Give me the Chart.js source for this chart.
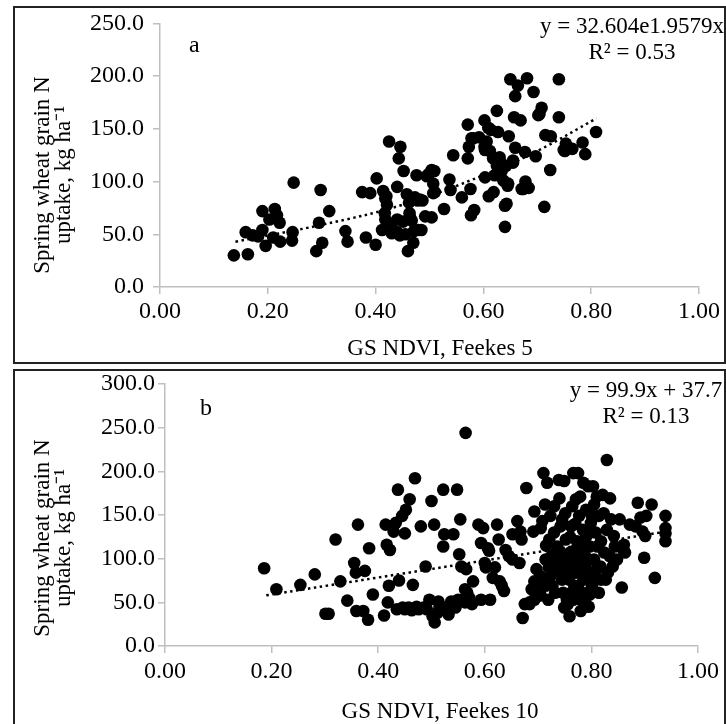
<!DOCTYPE html>
<html>
<head>
<meta charset="utf-8">
<script src="https://cdn.jsdelivr.net/npm/chart.js@4.4.0/dist/chart.umd.min.js"></script>
<style>
  body { margin: 0; background: #fff; }
  #wrap { position: relative; width: 726px; height: 724px; overflow: hidden; }
  .frame { position: absolute; left: 13px; width: 713px; border: 2px solid #222; box-sizing: border-box; }
  canvas { position: absolute; left: 0; }
</style>
</head>
<body>
<div id="wrap">
  <div class="frame" style="top:6px;height:358px"></div>
  <div class="frame" style="top:369px;height:360px"></div>
  <canvas id="chartA" width="726" height="364" style="top:0"></canvas>
  <canvas id="chartB" width="726" height="360" style="top:364px"></canvas>
</div>
<script>
// panel a: Feekes 5
const ndviF5 = [0.137,0.163,0.159,0.172,0.182,0.190,0.190,0.196,0.203,0.210,0.213,0.217,0.222,0.223,0.246,0.245,0.248,0.290,0.295,0.298,0.301,0.314,0.344,0.348,0.382,0.375,0.390,0.400,0.402,0.412,0.414,0.418,0.421,0.417,0.425,0.430,0.440,0.440,0.443,0.446,0.445,0.452,0.458,0.460,0.463,0.467,0.470,0.471,0.476,0.478,0.485,0.487,0.492,0.498,0.504,0.509,0.510,0.507,0.527,0.537,0.539,0.544,0.560,0.571,0.571,0.573,0.576,0.578,0.577,0.583,0.592,0.602,0.602,0.603,0.606,0.610,0.612,0.614,0.619,0.621,0.623,0.625,0.627,0.630,0.634,0.637,0.642,0.640,0.640,0.643,0.645,0.647,0.650,0.655,0.659,0.657,0.659,0.664,0.669,0.674,0.677,0.681,0.678,0.684,0.693,0.697,0.704,0.708,0.713,0.715,0.724,0.725,0.740,0.740,0.749,0.753,0.765,0.784,0.789,0.809,0.418,0.428,0.432,0.440,0.455,0.464,0.473,0.479,0.482,0.495,0.504,0.507,0.581,0.603,0.609,0.618,0.625,0.631,0.634,0.646,0.655,0.671,0.702,0.751,0.420,0.451,0.462];
const uptakeF5 = [30,31,52,49,48,54,72,39,64,47,74,68,61,43,52,44,99,34,61,92,42,72,53,43,47,90,89,40,103,54,91,84,78,70,138,51,64,95,122,133,49,110,88,34,70,63,42,53,106,82,54,82,67,107,66,110,90,98,74,102,92,125,85,154,122,133,93,141,68,73,142,158,133,104,138,86,129,149,90,106,120,167,147,123,113,101,115,77,57,79,96,143,197,118,132,161,181,191,158,93,128,198,100,94,185,124,164,170,76,144,111,143,161,197,130,136,131,137,126,147,64,58,53,52,50,66,85,54,83,105,111,89,141,130,151,122,115,119,110,98,120,93,163,129,86,62,80];
const trendXF5 = [0.14, 0.30, 0.45, 0.60, 0.70, 0.81];
const trendYF5 = [43, 59, 78, 106, 129, 160];

// panel b: Feekes 10
const ndviF10 = [0.186,0.209,0.254,0.281,0.301,0.307,0.320,0.329,0.342,0.355,0.358,0.359,0.362,0.372,0.375,0.381,0.383,0.390,0.411,0.414,0.416,0.422,0.420,0.418,0.433,0.435,0.437,0.439,0.429,0.445,0.450,0.450,0.452,0.459,0.457,0.465,0.469,0.472,0.476,0.480,0.489,0.491,0.496,0.500,0.502,0.505,0.506,0.513,0.515,0.522,0.522,0.524,0.528,0.532,0.537,0.541,0.545,0.548,0.552,0.554,0.556,0.558,0.564,0.565,0.563,0.567,0.571,0.576,0.578,0.588,0.593,0.593,0.597,0.600,0.602,0.606,0.608,0.610,0.615,0.619,0.623,0.626,0.628,0.632,0.636,0.639,0.645,0.652,0.661,0.652,0.665,0.667,0.669,0.671,0.675,0.678,0.684,0.688,0.691,0.693,0.693,0.697,0.701,0.704,0.708,0.710,0.713,0.714,0.717,0.719,0.721,0.723,0.725,0.727,0.730,0.732,0.736,0.739,0.740,0.742,0.745,0.745,0.747,0.749,0.751,0.752,0.753,0.754,0.756,0.759,0.760,0.762,0.764,0.766,0.766,0.768,0.771,0.773,0.775,0.775,0.777,0.779,0.780,0.780,0.784,0.785,0.788,0.790,0.792,0.794,0.797,0.797,0.799,0.801,0.803,0.805,0.805,0.808,0.810,0.811,0.814,0.817,0.818,0.821,0.823,0.824,0.827,0.829,0.829,0.831,0.834,0.835,0.837,0.840,0.842,0.844,0.848,0.853,0.857,0.860,0.861,0.863,0.872,0.883,0.887,0.892,0.896,0.899,0.901,0.903,0.913,0.919,0.939,0.939,0.939,0.939,0.714,0.723,0.732,0.736,0.740,0.749,0.758,0.762,0.771,0.775,0.784,0.785,0.797,0.810,0.818,0.814,0.749,0.766,0.779,0.788,0.797,0.684,0.693,0.700,0.705,0.446,0.463,0.485,0.511,0.524,0.550,0.563,0.720,0.730,0.745,0.760,0.770,0.790,0.800,0.730,0.715,0.705,0.790,0.805,0.770,0.760,0.780,0.795,0.740,0.710];
const uptakeF10 = [89,65,70,82,37,37,122,74,52,95,84,40,139,40,86,30,112,59,35,139,116,110,69,50,141,42,179,75,131,149,42,129,156,168,44,70,192,45,42,137,91,42,53,166,34,139,27,51,45,179,114,128,43,36,51,128,44,179,105,145,91,53,244,88,65,61,55,48,74,139,53,118,135,95,90,112,109,53,78,90,139,122,74,69,63,110,103,99,143,128,95,131,122,32,48,181,50,65,131,154,74,88,61,80,143,198,162,99,187,53,122,149,103,69,160,88,114,190,169,137,99,76,61,189,152,122,84,53,48,34,107,137,160,198,99,69,168,120,69,198,149,171,53,88,133,187,103,156,61,183,114,84,141,69,183,162,99,130,171,114,149,91,120,173,152,107,76,213,133,84,103,169,145,91,126,114,99,145,67,110,116,107,139,137,164,147,131,101,126,149,162,78,149,135,129,120,69,80,61,91,107,91,76,61,84,99,114,76,130,88,76,61,44,53,61,53,59,48,53,70,58,44,41,44,38,44,53,50,90,130,145,125,140,95,150,100,115,135,125,80,110,90,40,45,85,75];
const trendXF10 = [0.19, 0.94];
const trendYF10 = [58, 131];

const xTicks = [0, 0.2, 0.4, 0.6, 0.8, 1.0];
const yTitle = ["Spring wheat grain N", "uptake, kg ha\u207B\u00B9"];

const serif = '"Liberation Serif", "Times New Roman", serif';
const axisGrey = "#bfbfbf";

function toPoints(xs, ys) {
  return xs.map((x, i) => ({ x: x, y: ys[i] }));
}

const panelText = {
  id: "panelText",
  afterDraw(chart, args, opts) {
    const ctx = chart.ctx;
    ctx.save();
    ctx.fillStyle = "#000";
    ctx.textBaseline = "alphabetic";
    ctx.textAlign = "center";
    ctx.font = "23px " + serif;
    opts.equation.forEach((line, i) => ctx.fillText(line, opts.eqX, opts.eqY + i * 26));
    ctx.textAlign = "left";
    ctx.font = "24px " + serif;
    ctx.fillText(opts.letter, opts.letterX, opts.letterY);
    ctx.textAlign = "center";
    ctx.font = "23px " + serif;
    ctx.fillText(opts.xTitle, opts.xTitleX, opts.xTitleY);
    ctx.translate(opts.yTitleX, opts.yTitleY);
    ctx.rotate(-Math.PI / 2);
    ctx.textBaseline = "middle";
    yTitle.forEach((line, i) => ctx.fillText(line, 0, i * 21));
    ctx.restore();
  },
};

function scaleOpts(min, max, step, digits, fitSize, isX, pad) {
  return {
    type: "linear",
    min: min,
    max: max,
    afterBuildTicks: isX ? (s) => { s.ticks = xTicks.map((v) => ({ value: v })); } : undefined,
    ticks: {
      stepSize: step,
      color: "#000",
      font: { family: serif, size: 24 },
      padding: pad,
      callback: (v) => Number(v).toFixed(digits),
    },
    grid: { drawOnChartArea: false, color: axisGrey, lineWidth: 1.5, tickLength: 7 },
    border: { color: axisGrey, width: 1.5 },
    afterFit: (s) => {
      if (isX) s.height = fitSize;
      else s.width = fitSize;
    },
  };
}

function dotSet(data) {
  return {
    type: "scatter",
    data: data,
    pointRadius: 6.3,
    pointHoverRadius: 6.3,
    backgroundColor: "#000",
    borderWidth: 0,
    order: 2,
  };
}

function trendSet(data) {
  return {
    type: "line",
    data: data,
    borderColor: "#000",
    borderWidth: 2.5,
    borderDash: [2.5, 3.5],
    pointRadius: 0,
    fill: false,
    tension: 0.4,
    order: 1,
  };
}

new Chart(document.getElementById("chartA"), {
  type: "scatter",
  data: {
    datasets: [dotSet(toPoints(ndviF5, uptakeF5)), trendSet(toPoints(trendXF5, trendYF5))],
  },
  options: {
    responsive: false,
    animation: false,
    layout: { padding: { left: 0, right: 27, top: 21, bottom: 0 } },
    plugins: {
      legend: { display: false },
      tooltip: { enabled: false },
      panelText: {
        equation: ["y = 32.604e1.9579x", "R\u00B2 = 0.53"],
        eqX: 632, eqY: 33,
        letter: "a", letterX: 189, letterY: 52,
        xTitle: "GS NDVI, Feekes 5", xTitleX: 440, xTitleY: 355,
        yTitleX: 43, yTitleY: 175,
      },
    },
    scales: {
      x: scaleOpts(0, 1, 0.2, 2, 77, true, 3),
      y: scaleOpts(0, 250, 50, 1, 160, false, 9),
    },
  },
  plugins: [panelText],
});

new Chart(document.getElementById("chartB"), {
  type: "scatter",
  data: {
    datasets: [dotSet(toPoints(ndviF10, uptakeF10)), trendSet(toPoints(trendXF10, trendYF10))],
  },
  options: {
    responsive: false,
    animation: false,
    layout: { padding: { left: 0, right: 28, top: 20, bottom: 0 } },
    plugins: {
      legend: { display: false },
      tooltip: { enabled: false },
      panelText: {
        equation: ["y = 99.9x + 37.7", "R\u00B2 = 0.13"],
        eqX: 646, eqY: 33,
        letter: "b", letterX: 200, letterY: 51,
        xTitle: "GS NDVI, Feekes 10", xTitleX: 440, xTitleY: 354,
        yTitleX: 43, yTitleY: 174,
      },
    },
    scales: {
      x: scaleOpts(0, 1, 0.2, 2, 78, true, 4),
      y: scaleOpts(0, 300, 50, 1, 165, false, 3),
    },
  },
  plugins: [panelText],
});
</script>
</body>
</html>
